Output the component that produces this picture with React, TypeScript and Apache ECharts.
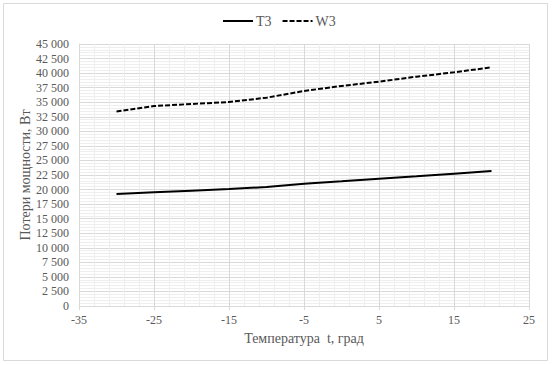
import React, { useEffect, useRef } from "react";
import * as echarts from "echarts";

const temps = [-30, -25, -20, -15, -10, -5, 0, 5, 10, 15, 20];
const t3Values = [19240, 19520, 19810, 20100, 20440, 21010, 21410, 21870, 22270, 22730, 23190];
const w3Values = [33400, 34350, 34700, 35040, 35780, 36930, 37790, 38530, 39390, 40130, 41000];
const seriesNames = ["T3", "W3"];
const xTitle = "Температура  t, град";
const yTitle = "Потери мощности, Вт";

const FONT = "Liberation Serif";
const TXT = "#595959";

export default function App() {
  const ref = useRef<HTMLDivElement>(null);
  useEffect(() => {
    if (!ref.current) return;
    const chart = echarts.init(ref.current, null, { renderer: "svg" });
    const fmt = (v: number) => String(v).replace(/\B(?=(\d{3})+(?!\d))/g, " ");
    chart.setOption({
      animation: false,
      backgroundColor: "#ffffff",
      textStyle: { fontFamily: FONT },
      graphic: [
        {
          type: "rect",
          shape: { x: 3.5, y: 3.5, width: 544, height: 357 },
          style: { fill: "none", stroke: "#d9d9d9", lineWidth: 1 },
          silent: true,
        },
      ],
      legend: {
        left: 222,
        top: 14,
        padding: 0,
        itemWidth: 30,
        itemHeight: 2,
        itemGap: 10,
        textStyle: { fontFamily: FONT, fontSize: 14, color: TXT, padding: [0, 0, 0, -2] },
        data: seriesNames,
      },
      grid: { left: 79, right: 24, top: 44, bottom: 59, containLabel: false },
      xAxis: {
        type: "value",
        min: -35,
        max: 25,
        interval: 10,
        name: xTitle,
        nameLocation: "middle",
        nameGap: 25,
        nameMoveOverlap: false,
        nameTextStyle: { fontFamily: FONT, fontSize: 14, color: TXT },
        axisLine: { show: true, onZero: false, lineStyle: { color: "#d9d9d9", width: 1 } },
        axisTick: { show: true, length: 4, lineStyle: { color: "#d9d9d9" } },
        axisLabel: { fontFamily: FONT, fontSize: 12, color: TXT, margin: 8 },
        splitLine: { show: true, lineStyle: { color: "#d9d9d9", width: 1 } },
        minorTick: { show: false, splitNumber: 5 },
        minorSplitLine: { show: true, lineStyle: { color: "#eeeeee", width: 1 } },
      },
      yAxis: {
        type: "value",
        min: 0,
        max: 45000,
        interval: 2500,
        name: yTitle,
        nameLocation: "middle",
        nameGap: 47,
        nameMoveOverlap: false,
        nameTextStyle: { fontFamily: FONT, fontSize: 14, color: TXT },
        axisLine: { show: true, onZero: false, lineStyle: { color: "#d9d9d9", width: 1 } },
        axisTick: { show: false },
        axisLabel: { fontFamily: FONT, fontSize: 12, color: TXT, margin: 10, formatter: fmt },
        splitLine: { show: true, lineStyle: { color: "#d9d9d9", width: 1 } },
        minorTick: { show: false, splitNumber: 5 },
        minorSplitLine: { show: true, lineStyle: { color: "#eeeeee", width: 1 } },
      },
      series: [
        {
          name: seriesNames[0],
          type: "line",
          data: temps.map((t, i) => [t, t3Values[i]]),
          symbol: "none",
          itemStyle: { color: "#000000" },
          lineStyle: { color: "#000000", width: 2, type: "solid" },
        },
        {
          name: seriesNames[1],
          type: "line",
          data: temps.map((t, i) => [t, w3Values[i]]),
          symbol: "none",
          itemStyle: { color: "#000000" },
          lineStyle: { color: "#000000", width: 2, type: [5, 2] },
        },
      ],
    });
    return () => chart.dispose();
  }, []);
  return (
    <div
      ref={ref}
      style={{ position: "fixed", left: 0, top: 0, width: 553, height: 365 }}
    />
  );
}
